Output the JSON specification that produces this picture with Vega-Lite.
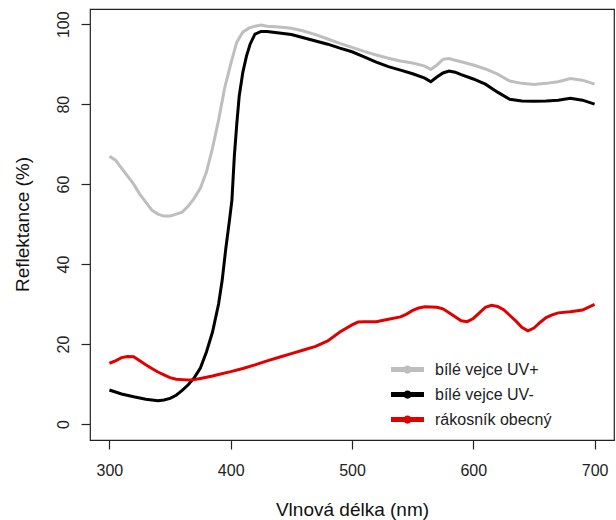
{
  "$schema": "https://vega.github.io/schema/vega-lite/v6.json",
  "width": 524,
  "height": 431,
  "autosize": {"type": "none"},
  "padding": {"left": 90, "top": 9, "right": 2, "bottom": 80},
  "background": "white",
  "config": {
    "view": {"stroke": "#222", "strokeWidth": 1.2},
    "font": "Liberation Sans",
    "axis": {
      "grid": false, "domain": false, "tickColor": "#222", "tickSize": 9, "tickWidth": 1.2,
      "labelFont": "Liberation Sans", "labelFontSize": 16, "labelColor": "#222",
      "titleFont": "Liberation Sans", "titleFontSize": 19, "titleFontWeight": "normal", "titleColor": "#111"
    }
  },
  "datasets": {
    "spectra": [
      {"nm": 300, "r": 67, "s": "bílé vejce UV+"}, {"nm": 305, "r": 66, "s": "bílé vejce UV+"}, {"nm": 310, "r": 64, "s": "bílé vejce UV+"}, {"nm": 315, "r": 62, "s": "bílé vejce UV+"}, {"nm": 320, "r": 60, "s": "bílé vejce UV+"}, {"nm": 325, "r": 57.5, "s": "bílé vejce UV+"}, {"nm": 330, "r": 55.5, "s": "bílé vejce UV+"}, {"nm": 335, "r": 53.5, "s": "bílé vejce UV+"}, {"nm": 340, "r": 52.5, "s": "bílé vejce UV+"}, {"nm": 345, "r": 52, "s": "bílé vejce UV+"}, {"nm": 350, "r": 52, "s": "bílé vejce UV+"}, {"nm": 355, "r": 52.5, "s": "bílé vejce UV+"}, {"nm": 360, "r": 53, "s": "bílé vejce UV+"}, {"nm": 365, "r": 54.5, "s": "bílé vejce UV+"}, {"nm": 370, "r": 56.5, "s": "bílé vejce UV+"}, {"nm": 375, "r": 59, "s": "bílé vejce UV+"}, {"nm": 380, "r": 63, "s": "bílé vejce UV+"}, {"nm": 385, "r": 69, "s": "bílé vejce UV+"}, {"nm": 390, "r": 76, "s": "bílé vejce UV+"}, {"nm": 395, "r": 84, "s": "bílé vejce UV+"}, {"nm": 400, "r": 90, "s": "bílé vejce UV+"}, {"nm": 405, "r": 95.5, "s": "bílé vejce UV+"}, {"nm": 410, "r": 98, "s": "bílé vejce UV+"}, {"nm": 415, "r": 99, "s": "bílé vejce UV+"}, {"nm": 420, "r": 99.5, "s": "bílé vejce UV+"}, {"nm": 425, "r": 99.8, "s": "bílé vejce UV+"}, {"nm": 430, "r": 99.5, "s": "bílé vejce UV+"}, {"nm": 440, "r": 99.3, "s": "bílé vejce UV+"}, {"nm": 450, "r": 99, "s": "bílé vejce UV+"}, {"nm": 460, "r": 98.3, "s": "bílé vejce UV+"}, {"nm": 470, "r": 97.4, "s": "bílé vejce UV+"}, {"nm": 480, "r": 96.3, "s": "bílé vejce UV+"}, {"nm": 490, "r": 95.2, "s": "bílé vejce UV+"}, {"nm": 500, "r": 94.2, "s": "bílé vejce UV+"}, {"nm": 510, "r": 93.2, "s": "bílé vejce UV+"}, {"nm": 520, "r": 92.3, "s": "bílé vejce UV+"}, {"nm": 530, "r": 91.5, "s": "bílé vejce UV+"}, {"nm": 540, "r": 90.8, "s": "bílé vejce UV+"}, {"nm": 550, "r": 90.3, "s": "bílé vejce UV+"}, {"nm": 560, "r": 89.5, "s": "bílé vejce UV+"}, {"nm": 565, "r": 88.7, "s": "bílé vejce UV+"}, {"nm": 570, "r": 89.8, "s": "bílé vejce UV+"}, {"nm": 575, "r": 91.2, "s": "bílé vejce UV+"}, {"nm": 580, "r": 91.4, "s": "bílé vejce UV+"}, {"nm": 585, "r": 91, "s": "bílé vejce UV+"}, {"nm": 590, "r": 90.6, "s": "bílé vejce UV+"}, {"nm": 600, "r": 89.8, "s": "bílé vejce UV+"}, {"nm": 610, "r": 88.8, "s": "bílé vejce UV+"}, {"nm": 620, "r": 87.5, "s": "bílé vejce UV+"}, {"nm": 630, "r": 85.8, "s": "bílé vejce UV+"}, {"nm": 640, "r": 85.2, "s": "bílé vejce UV+"}, {"nm": 650, "r": 84.9, "s": "bílé vejce UV+"}, {"nm": 660, "r": 85.2, "s": "bílé vejce UV+"}, {"nm": 670, "r": 85.6, "s": "bílé vejce UV+"}, {"nm": 680, "r": 86.4, "s": "bílé vejce UV+"}, {"nm": 690, "r": 86, "s": "bílé vejce UV+"}, {"nm": 700, "r": 85, "s": "bílé vejce UV+"},

      {"nm": 300, "r": 8.5, "s": "bílé vejce UV-"}, {"nm": 310, "r": 7.5, "s": "bílé vejce UV-"}, {"nm": 320, "r": 6.8, "s": "bílé vejce UV-"}, {"nm": 330, "r": 6.2, "s": "bílé vejce UV-"}, {"nm": 340, "r": 5.8, "s": "bílé vejce UV-"}, {"nm": 345, "r": 6, "s": "bílé vejce UV-"}, {"nm": 350, "r": 6.4, "s": "bílé vejce UV-"}, {"nm": 355, "r": 7.2, "s": "bílé vejce UV-"}, {"nm": 360, "r": 8.4, "s": "bílé vejce UV-"}, {"nm": 365, "r": 9.8, "s": "bílé vejce UV-"}, {"nm": 370, "r": 11.6, "s": "bílé vejce UV-"}, {"nm": 375, "r": 14, "s": "bílé vejce UV-"}, {"nm": 380, "r": 18, "s": "bílé vejce UV-"}, {"nm": 385, "r": 23, "s": "bílé vejce UV-"}, {"nm": 390, "r": 30, "s": "bílé vejce UV-"}, {"nm": 393, "r": 36, "s": "bílé vejce UV-"}, {"nm": 396, "r": 44, "s": "bílé vejce UV-"}, {"nm": 399, "r": 51, "s": "bílé vejce UV-"}, {"nm": 401, "r": 56, "s": "bílé vejce UV-"}, {"nm": 403, "r": 67, "s": "bílé vejce UV-"}, {"nm": 405, "r": 75, "s": "bílé vejce UV-"}, {"nm": 407, "r": 82, "s": "bílé vejce UV-"}, {"nm": 410, "r": 88, "s": "bílé vejce UV-"}, {"nm": 413, "r": 92, "s": "bílé vejce UV-"}, {"nm": 416, "r": 95, "s": "bílé vejce UV-"}, {"nm": 420, "r": 97.5, "s": "bílé vejce UV-"}, {"nm": 425, "r": 98.2, "s": "bílé vejce UV-"}, {"nm": 430, "r": 98.2, "s": "bílé vejce UV-"}, {"nm": 440, "r": 97.8, "s": "bílé vejce UV-"}, {"nm": 450, "r": 97.4, "s": "bílé vejce UV-"}, {"nm": 460, "r": 96.6, "s": "bílé vejce UV-"}, {"nm": 470, "r": 95.8, "s": "bílé vejce UV-"}, {"nm": 480, "r": 95, "s": "bílé vejce UV-"}, {"nm": 490, "r": 94, "s": "bílé vejce UV-"}, {"nm": 500, "r": 93.1, "s": "bílé vejce UV-"}, {"nm": 510, "r": 91.8, "s": "bílé vejce UV-"}, {"nm": 520, "r": 90.5, "s": "bílé vejce UV-"}, {"nm": 530, "r": 89.4, "s": "bílé vejce UV-"}, {"nm": 540, "r": 88.5, "s": "bílé vejce UV-"}, {"nm": 550, "r": 87.6, "s": "bílé vejce UV-"}, {"nm": 560, "r": 86.5, "s": "bílé vejce UV-"}, {"nm": 565, "r": 85.6, "s": "bílé vejce UV-"}, {"nm": 570, "r": 86.8, "s": "bílé vejce UV-"}, {"nm": 575, "r": 87.8, "s": "bílé vejce UV-"}, {"nm": 580, "r": 88.3, "s": "bílé vejce UV-"}, {"nm": 585, "r": 88, "s": "bílé vejce UV-"}, {"nm": 590, "r": 87.4, "s": "bílé vejce UV-"}, {"nm": 600, "r": 86.3, "s": "bílé vejce UV-"}, {"nm": 610, "r": 85, "s": "bílé vejce UV-"}, {"nm": 620, "r": 83, "s": "bílé vejce UV-"}, {"nm": 630, "r": 81.2, "s": "bílé vejce UV-"}, {"nm": 640, "r": 80.8, "s": "bílé vejce UV-"}, {"nm": 650, "r": 80.7, "s": "bílé vejce UV-"}, {"nm": 660, "r": 80.8, "s": "bílé vejce UV-"}, {"nm": 670, "r": 81, "s": "bílé vejce UV-"}, {"nm": 680, "r": 81.5, "s": "bílé vejce UV-"}, {"nm": 690, "r": 81, "s": "bílé vejce UV-"}, {"nm": 700, "r": 80, "s": "bílé vejce UV-"},

      {"nm": 300, "r": 15.2, "s": "rákosník obecný"}, {"nm": 305, "r": 15.8, "s": "rákosník obecný"}, {"nm": 310, "r": 16.6, "s": "rákosník obecný"}, {"nm": 315, "r": 16.9, "s": "rákosník obecný"}, {"nm": 320, "r": 16.8, "s": "rákosník obecný"}, {"nm": 325, "r": 15.8, "s": "rákosník obecný"}, {"nm": 330, "r": 14.8, "s": "rákosník obecný"}, {"nm": 335, "r": 13.9, "s": "rákosník obecný"}, {"nm": 340, "r": 13, "s": "rákosník obecný"}, {"nm": 345, "r": 12.3, "s": "rákosník obecný"}, {"nm": 350, "r": 11.6, "s": "rákosník obecný"}, {"nm": 355, "r": 11.2, "s": "rákosník obecný"}, {"nm": 360, "r": 11.1, "s": "rákosník obecný"}, {"nm": 365, "r": 11, "s": "rákosník obecný"}, {"nm": 370, "r": 11.1, "s": "rákosník obecný"}, {"nm": 375, "r": 11.4, "s": "rákosník obecný"}, {"nm": 380, "r": 11.7, "s": "rákosník obecný"}, {"nm": 385, "r": 12, "s": "rákosník obecný"}, {"nm": 390, "r": 12.4, "s": "rákosník obecný"}, {"nm": 400, "r": 13.1, "s": "rákosník obecný"}, {"nm": 410, "r": 13.9, "s": "rákosník obecný"}, {"nm": 420, "r": 14.8, "s": "rákosník obecný"}, {"nm": 430, "r": 15.8, "s": "rákosník obecný"}, {"nm": 440, "r": 16.7, "s": "rákosník obecný"}, {"nm": 450, "r": 17.6, "s": "rákosník obecný"}, {"nm": 460, "r": 18.5, "s": "rákosník obecný"}, {"nm": 470, "r": 19.4, "s": "rákosník obecný"}, {"nm": 480, "r": 20.8, "s": "rákosník obecný"}, {"nm": 490, "r": 23, "s": "rákosník obecný"}, {"nm": 500, "r": 24.8, "s": "rákosník obecný"}, {"nm": 505, "r": 25.5, "s": "rákosník obecný"}, {"nm": 510, "r": 25.6, "s": "rákosník obecný"}, {"nm": 520, "r": 25.6, "s": "rákosník obecný"}, {"nm": 530, "r": 26.2, "s": "rákosník obecný"}, {"nm": 540, "r": 26.8, "s": "rákosník obecný"}, {"nm": 545, "r": 27.5, "s": "rákosník obecný"}, {"nm": 550, "r": 28.4, "s": "rákosník obecný"}, {"nm": 555, "r": 29, "s": "rákosník obecný"}, {"nm": 560, "r": 29.3, "s": "rákosník obecný"}, {"nm": 570, "r": 29.2, "s": "rákosník obecný"}, {"nm": 575, "r": 28.8, "s": "rákosník obecný"}, {"nm": 580, "r": 27.8, "s": "rákosník obecný"}, {"nm": 585, "r": 26.8, "s": "rákosník obecný"}, {"nm": 590, "r": 25.8, "s": "rákosník obecný"}, {"nm": 595, "r": 25.6, "s": "rákosník obecný"}, {"nm": 600, "r": 26.4, "s": "rákosník obecný"}, {"nm": 605, "r": 27.8, "s": "rákosník obecný"}, {"nm": 610, "r": 29.2, "s": "rákosník obecný"}, {"nm": 615, "r": 29.7, "s": "rákosník obecný"}, {"nm": 620, "r": 29.4, "s": "rákosník obecný"}, {"nm": 625, "r": 28.6, "s": "rákosník obecný"}, {"nm": 630, "r": 27.2, "s": "rákosník obecný"}, {"nm": 635, "r": 25.8, "s": "rákosník obecný"}, {"nm": 640, "r": 24.2, "s": "rákosník obecný"}, {"nm": 645, "r": 23.3, "s": "rákosník obecný"}, {"nm": 650, "r": 24, "s": "rákosník obecný"}, {"nm": 655, "r": 25.4, "s": "rákosník obecný"}, {"nm": 660, "r": 26.6, "s": "rákosník obecný"}, {"nm": 665, "r": 27.3, "s": "rákosník obecný"}, {"nm": 670, "r": 27.8, "s": "rákosník obecný"}, {"nm": 680, "r": 28.1, "s": "rákosník obecný"}, {"nm": 690, "r": 28.5, "s": "rákosník obecný"}, {"nm": 700, "r": 29.9, "s": "rákosník obecný"}
    ]
  },
  "layer": [
    {
      "data": {"name": "spectra"},
      "mark": {"type": "line", "strokeWidth": 3, "clip": true},
      "encoding": {
        "x": {
          "field": "nm", "type": "quantitative",
          "scale": {"domain": [284, 716], "nice": false, "zero": false},
          "axis": {"values": [300, 400, 500, 600, 700], "title": "Vlnová délka (nm)", "labelPadding": 13, "titleY": 75, "titleBaseline": "alphabetic"}
        },
        "y": {
          "field": "r", "type": "quantitative",
          "scale": {"domain": [-4, 103.8], "nice": false, "zero": false},
          "axis": {"values": [0, 20, 40, 60, 80, 100], "title": "Reflektance (%)", "labelAngle": -90, "labelAlign": "center", "labelBaseline": "bottom", "labelPadding": 10, "titleX": -62, "titleY": 215, "titleAngle": -90, "titleAlign": "center", "titleBaseline": "alphabetic"}
        },
        "color": {
          "field": "s", "type": "nominal",
          "scale": {"domain": ["bílé vejce UV+", "bílé vejce UV-", "rákosník obecný"], "range": ["#bebebe", "#000000", "#e00000"]},
          "legend": {
            "title": null, "orient": "none", "legendX": 301, "legendY": 344,
            "padding": 0, "labelFontSize": 16, "labelFont": "Liberation Sans", "labelColor": "#222", "labelOffset": 11,
            "symbolType": "M-1,-0.15H1V0.15H-1Z M-0.25,0A0.25,0.25 0 1,1 0.25,0A0.25,0.25 0 1,1 -0.25,0Z",
            "symbolSize": 1089, "symbolStrokeWidth": 0, "rowPadding": -1,
            "encode": {"symbols": {"update": {"fill": {"scale": "color", "field": "value"}, "opacity": {"value": 1}}}}
          }
        }
      }
    },
    {
      "mark": {"type": "rule", "strokeDash": [8, 6], "strokeWidth": 2, "color": "#111", "clip": true},
      "encoding": {
        "x": {"datum": 400, "type": "quantitative"},
        "y": {"datum": 0, "type": "quantitative"},
        "y2": {"datum": 104}
      }
    }
  ]
}
